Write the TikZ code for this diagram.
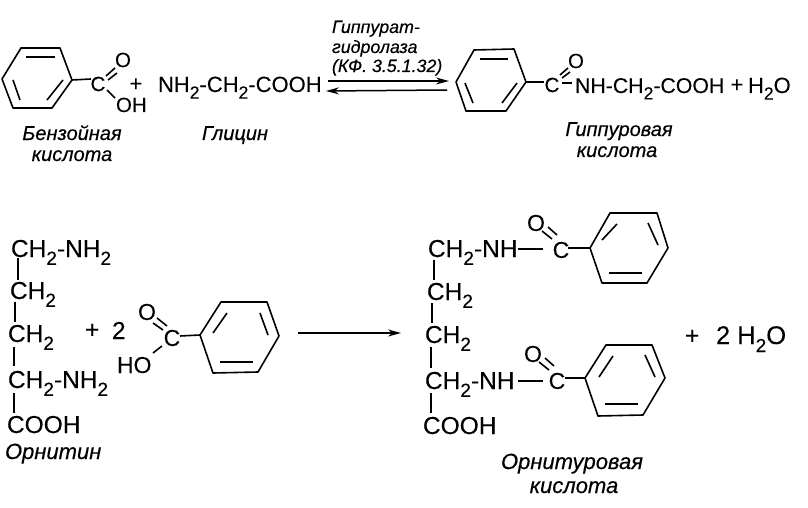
\documentclass[tikz,border=0pt]{standalone}
\usepackage{fontspec}
\setmainfont[FakeBold=0.12,ItalicFeatures={FakeBold=0.35}]{Liberation Sans}
\usetikzlibrary{arrows.meta}
\newcommand{\lw}[1]{\raisebox{-0.3em}{\fontsize{17.5}{17.5}\selectfont #1}}
\newcommand{\lwb}[1]{\raisebox{-0.32em}{\fontsize{19}{19}\selectfont #1}}
\newcommand{\bondln}[3]{\coordinate (#1-a) at (#2); \coordinate (#1-b) at (#3); \draw[bondline] (#1-a) -- (#1-b);}
\newcommand{\ringshape}[7]{%
  \coordinate (#1-1) at (#2); \coordinate (#1-2) at (#3); \coordinate (#1-3) at (#4);
  \coordinate (#1-4) at (#5); \coordinate (#1-5) at (#6); \coordinate (#1-6) at (#7);
  \draw[bondline,line join=round] (#1-1) -- (#1-2) -- (#1-3) -- (#1-4) -- (#1-5) -- (#1-6) -- cycle;}
\tikzset{
  bondline/.style={line width=1.6pt,black,line cap=butt},
  chem/.style={anchor=base west,inner sep=0pt,outer sep=0pt,font=\fontsize{22}{22}\selectfont,text=black},
  chemhip/.style={chem,font=\fontsize{21.3}{21.3}\selectfont},
  chemb/.style={anchor=base west,inner sep=0pt,outer sep=0pt,font=\fontsize{24.5}{24.5}\selectfont,text=black},
  chemw/.style={chemb,font=\fontsize{25.5}{25.5}\selectfont},
  atom/.style={anchor=center,inner sep=0pt,outer sep=0pt,font=\fontsize{20.5}{20.5}\selectfont,text=black},
  atomb/.style={anchor=center,inner sep=0pt,outer sep=0pt,font=\fontsize{23}{23}\selectfont,text=black},
  namelabel/.style={anchor=base,inner sep=0pt,outer sep=0pt,font=\fontsize{20}{20}\selectfont\itshape,text=black},
  namelabelb/.style={anchor=base,inner sep=0pt,outer sep=0pt,font=\fontsize{22}{22}\selectfont\itshape,text=black},
  enzyme/.style={anchor=base west,inner sep=0pt,outer sep=0pt,font=\fontsize{17.8}{17.8}\selectfont\itshape,text=black},
  rxn/.style={line width=1.5pt,black},
  tip/.style={-{Stealth[length=13pt,width=7pt]}}
}
\begin{document}
\begin{tikzpicture}[x=1pt,y=-1pt]
\useasboundingbox[fill=white] (0,0) rectangle (808,508);

% --- top row: benzoic acid
\ringshape{ra}{2,79}{21,48}{60,48}{72,80}{52,108}{13,108}
\bondln{ra-i1}{26,57}{55,57}
\bondln{ra-i2}{13,80}{20,100}
\bondln{ra-i3}{47,100}{63,80}
\node[atom] (ca) at (98,84) {C};
\node[atom] (oa) at (123,60) {O};
\node[atom,anchor=base west] (oha) at (116,112) {OH};
\node[chem] (pa) at (129.5,91) {+};
\bondln{ra-c}{72,80}{91,79}
\bondln{ca-o1}{106,76}{115,68}
\bondln{ca-o2}{108,80}{117,73}
\bondln{ca-oh}{107,90}{115,98}

% glycine
\node[chem] (gly) at (158,92) {NH\lw{2}-CH\lw{2}-COOH};
\node[namelabel] (lba1) at (72,140) {Бензойная};
\node[namelabel] (lba2) at (72,161) {кислота};
\node[namelabel] (lgly) at (235,140) {Глицин};

% enzyme
\node[enzyme] (en1) at (332,33) {Гиппурат-};
\node[enzyme] (en2) at (332,53) {гидролаза};
\node[enzyme] (en3) at (332,72) {(КФ. 3.5.1.32)};
\coordinate (ar1a) at (328,81); \coordinate (ar1b) at (449,81);
\coordinate (ar2a) at (447,90); \coordinate (ar2b) at (326,91);
\draw[rxn,tip] (ar1a) -- (ar1b);
\draw[rxn,tip] (ar2a) -- (ar2b);

% hippuric acid
\ringshape{rb}{456,82}{474,50}{514,49}{526,82}{506,111}{466,111}
\bondln{rb-i1}{480,59}{508,59}
\bondln{rb-i2}{465,83}{473,103}
\bondln{rb-i3}{502,103}{517,83}
\bondln{rb-c}{526,82}{544,82}
\node[atom] (cb) at (552,85) {C};
\node[atom] (ob) at (576,61) {O};
\bondln{cb-o1}{560,75}{568,68}
\bondln{cb-o2}{562,78}{570,72}
\bondln{cb-n}{562,83}{572,83}
\node[chemhip] (hip) at (575,93) {NH-CH\lw{2}-COOH};
\node[chem] (pb) at (730.5,92) {+};
\node[chem] (wat) at (748,93) {H\lw{2}O};
\node[namelabel] (lhp1) at (619,136) {Гиппуровая};
\node[namelabel] (lhp2) at (617,157) {кислота};

% --- bottom row: ornithine
\node[chemb] (o1) at (11,257) {CH\lwb{2}-NH\lwb{2}};
\node[chemb] (o2) at (10,299) {CH\lwb{2}};
\node[chemb] (o3) at (8,342) {CH\lwb{2}};
\node[chemb] (o4) at (8,388) {CH\lwb{2}-NH\lwb{2}};
\node[chemb] (o5) at (7,433) {COOH};
\bondln{ob1}{18,258}{18,280}
\bondln{ob2}{15,302}{15,322}
\bondln{ob3}{14,347}{14,366}
\bondln{ob4}{14,393}{14,413}
\node[namelabelb,anchor=base west] (lorn) at (5,459) {Орнитин};
\node[chemb] (pc) at (85,338) {+};
\node[chemb] (two) at (112,339) {2};

% benzoic acid, reversed
\ringshape{rc}{200,335}{221,302}{267,302}{279,336}{258,372}{213,373}
\bondln{rc-i1}{213,333}{227,313}
\bondln{rc-i2}{260,313}{268,335}
\bondln{rc-i3}{220,362}{253,362}
\bondln{rc-c}{180,336}{200,335}
\node[atomb] (cc) at (172,338) {C};
\node[atomb] (oc) at (147,312) {O};
\node[atomb,anchor=base west] (hoc) at (117,373) {HO};
\bondln{cc-o1}{153,323}{163,330}
\bondln{cc-o2}{157,318}{167,326}
\bondln{cc-oh}{153,353}{162,346}

% main arrow
\coordinate (ar3a) at (298,333); \coordinate (ar3b) at (401,333);
\draw[rxn,tip] (ar3a) -- (ar3b);

% ornithuric acid
\node[chemb] (p1) at (428,257) {CH\lwb{2}-NH};
\node[chemb] (p2) at (427,300) {CH\lwb{2}};
\node[chemb] (p3) at (425,343) {CH\lwb{2}};
\node[chemb] (p4) at (425,389) {CH\lwb{2}-NH};
\node[chemb] (p5) at (423,434) {COOH};
\bondln{pb1}{434,260}{434,280}
\bondln{pb2}{432,303}{432,323}
\bondln{pb3}{431,347}{431,368}
\bondln{pb4}{431,393}{431,413}

\ringshape{rd}{590,248}{610,213}{657,213}{668,248}{647,283}{602,283}
\bondln{rd-i1}{602,240}{617,224}
\bondln{rd-i2}{648,223}{658,245}
\bondln{rd-i3}{609,273}{642,273}
\bondln{rd-c}{568,248}{590,248}
\node[atomb] (cd) at (561,250) {C};
\node[atomb] (od) at (536,223) {O};
\bondln{nd-c}{518,249}{543,249}
\bondln{cd-o1}{542,231}{552,239}
\bondln{cd-o2}{548,227}{557,235}

\ringshape{re}{585,378}{606,345}{652,345}{665,378}{643,415}{598,416}
\bondln{re-i1}{599,377}{613,356}
\bondln{re-i2}{645,355}{655,377}
\bondln{re-i3}{605,404}{638,404}
\bondln{re-c}{565,378}{585,378}
\node[atomb] (ce) at (557,381) {C};
\node[atomb] (oe) at (533,354) {O};
\bondln{ne-c}{518,381}{543,381}
\bondln{ce-o1}{539,362}{549,370}
\bondln{ce-o2}{545,358}{554,366}

\node[chemb] (pe) at (685,344) {+};
\node[chemw] (wat2) at (716,344) {2 H\lwb{2}O};
\node[namelabelb] (lou1) at (572,469) {Орнитуровая};
\node[namelabelb] (lou2) at (574,493) {кислота};
\end{tikzpicture}
\end{document}
